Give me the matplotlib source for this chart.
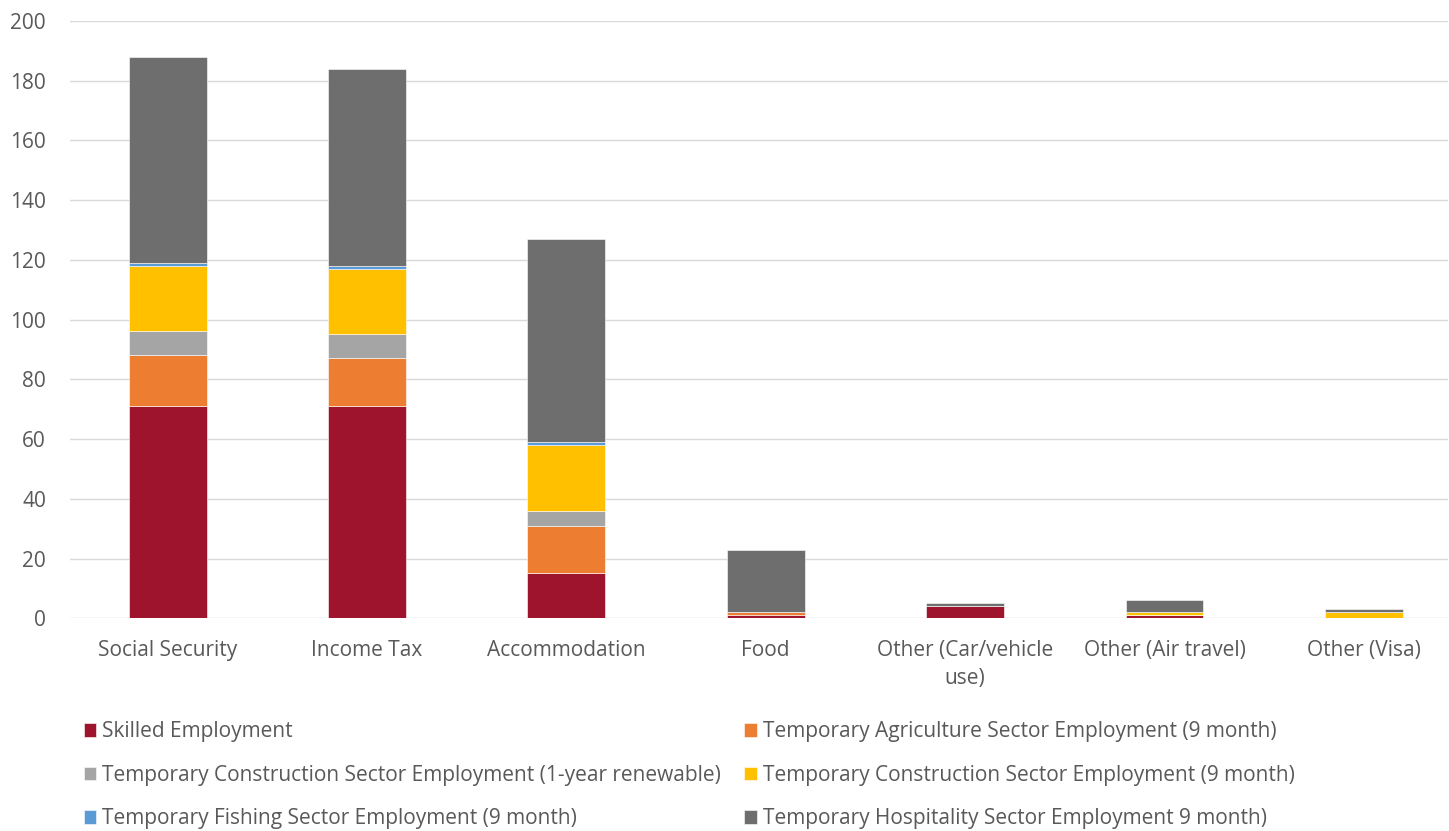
import matplotlib.pyplot as plt
import numpy as np

plt.rcParams['font.family'] = ['Open Sans', 'DejaVu Sans']

categories = ['Social Security', 'Income Tax', 'Accommodation', 'Food',
              'Other (Car/vehicle\nuse)', 'Other (Air travel)', 'Other (Visa)']

skilled = [71, 71, 15, 1, 4, 1, 0]
agriculture = [17, 16, 16, 1, 0, 0, 0]
construction_renew = [8, 8, 5, 0, 0, 0, 0]
construction_9m = [22, 22, 22, 0, 0, 1, 2]
fishing = [1, 1, 1, 0, 0, 0, 0]
hospitality = [69, 66, 68, 21, 1, 4, 1]

series = [
    ('Skilled Employment', skilled, '#9e142d'),
    ('Temporary Agriculture Sector Employment (9 month)', agriculture, '#ed7d31'),
    ('Temporary Construction Sector Employment (1-year renewable)', construction_renew, '#a5a5a5'),
    ('Temporary Construction Sector Employment (9 month)', construction_9m, '#ffc000'),
    ('Temporary Fishing Sector Employment (9 month)', fishing, '#5b9bd5'),
    ('Temporary Hospitality Sector Employment 9 month)', hospitality, '#6e6e6e'),
]

fig = plt.figure(figsize=(14.49, 8.31), dpi=100)
ax = fig.add_axes([0.048, 0.256, 0.951, 0.719])

x = np.arange(len(categories))
bottom = np.zeros(len(categories))
handles = {}
for name, vals, col in series:
    vals = np.array(vals, dtype=float)
    b = ax.bar(x, vals, 0.39, bottom=bottom, color=col, edgecolor='white',
               linewidth=0.4, label=name, zorder=3)
    handles[name] = b
    bottom += vals

ax.set_ylim(0, 200)
ax.set_yticks(range(0, 201, 20))
ax.set_xlim(-0.492, 6.42)
ax.set_xticks(x)
ax.set_xticklabels(categories, fontsize=15, color='#595959', linespacing=1.45)
ax.tick_params(axis='y', labelsize=15, labelcolor='#595959', length=0, pad=17)
ax.tick_params(axis='x', length=0, pad=15.5)
ax.grid(axis='y', color='#d9d9d9', linewidth=1, zorder=0)
for s in ax.spines.values():
    s.set_visible(False)

# legend fills column-first, so interleave to get row order
order = [0, 2, 4, 1, 3, 5]
hs = [handles[series[i][0]] for i in order]
ls = [series[i][0] for i in order]
fig.legend(hs, ls, loc='upper left', bbox_to_anchor=(0.052, 0.142), ncol=2,
           frameon=False, fontsize=15, labelcolor='#595959',
           handlelength=0.6, handleheight=0.6, handletextpad=0.3,
           columnspacing=1.1, labelspacing=1.08, borderaxespad=0)

fig.savefig('out.png', dpi=100)
